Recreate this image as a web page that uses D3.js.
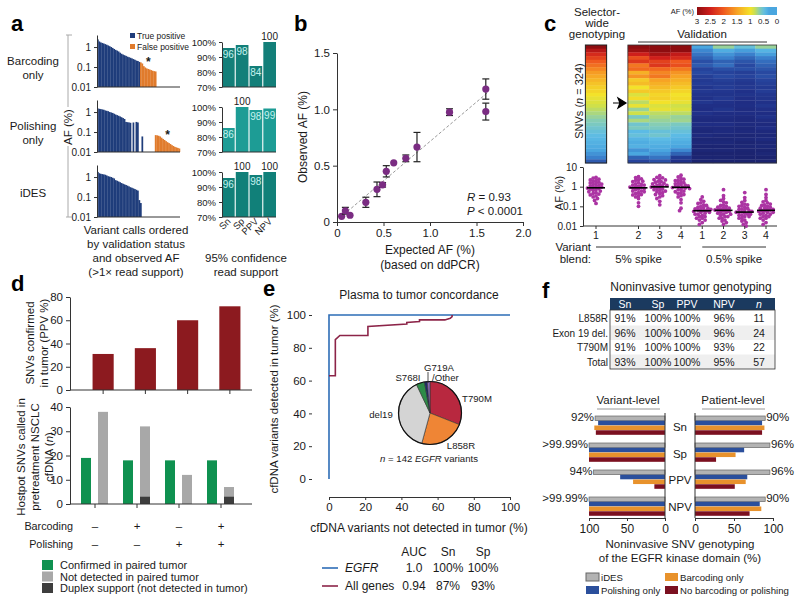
<!DOCTYPE html>
<html><head><meta charset="utf-8">
<script src="https://cdn.jsdelivr.net/npm/d3@7/dist/d3.min.js"></script>
<style>
body{margin:0;background:#fff;}
svg{font-family:Arial,"Liberation Sans",Helvetica,sans-serif;}
</style></head><body>
<svg id="fig" width="800" height="602"></svg>
<script>
// ================= DATA =================
// Panel a: AF (%) of variant calls ordered by status and AF
const tpBarcoding = [2.4,1.9,1.7,1.6,1.5,1.4,1.3,1.2,1.1,1.0,0.9,0.8,0.72,0.66,0.6,0.52,0.46,0.42,0.39,0.36,0.33,0.31,0.29,0.27,0.25,0.23,0.21,0.2,0.18];
const fpBarcoding = [0.17,0.15,0.11,0.095,0.085,0.08,0.075,0.07,0.065,0.062,0.06];
const tpPolishing = [1.5,1.45,1.4,1.35,1.3,1.2,1.15,1.1,1.0,0.95,0.9,0.82,0.75,0.7,0.65,0.6,0.55,0.5,0.45,0.32,0.31,0.3,0.29,null,0.3,null,0.32,0.3,null,null,0.06];
const fpPolishing = [null,null,null,null,null,null,null,null,0.07,0.068,0.065,0.06,0.052,0.045,0.04,0.035,0.031,0.028,0.025,0.022,0.02,0.018,0.017,0.016,0.015];
const tpIDES = [1.8,1.55,1.45,1.4,1.35,1.3,1.2,1.1,1.05,1.0,0.92,0.85,0.7,0.65,0.6,0.55,0.5,0.46,0.43,0.4,0.37,0.34,0.31,0.29,0.27,0.25,0.23,0.21,0.07,0.05];
const fpIDES = [];
const aStarIndex = [5, 16, null];
const ciLabels = ["Sn","Sp","PPV","NPV"];
const ciBarcoding = [96,98,84,100];
const ciPolishing = [86,100,98,99];
const ciIDES = [96,100,98,100];
const aAFTicks = [0.01,0.1,1];
const aCITicks = [70,80,90,100];

// Panel b
const bExpected = [0.05,0.09,0.14,0.31,0.43,0.49,0.53,0.61,0.74,0.86,1.21,1.6,1.6];
const bObserved = [0.05,0.10,0.06,0.175,0.29,0.33,0.45,0.525,0.565,0.665,0.975,1.18,0.98];
const bError    = [0,0.03,0,0.045,0.065,0.02,0.05,0,0.03,0.13,0.03,0.09,0.075];
const bFitSlope = 0.7, bFitIntercept = 0.015, bFitRange = [0.03,1.62];
const bXTicks = [0,0.5,1.0,1.5,2.0];
const bYTicks = [0,0.5,1.0,1.5];

// Panel c: AF (%) per SNV (rows sorted by selector-wide AF), per variant blend
const cBlendLabels = ["1","2","3","4","1","2","3","4"];
const cSpike5_1 = [3.0,2.7,2.4,2.2,2.0,1.85,1.7,1.55,1.45,1.35,1.25,1.15,1.1,1.0,0.95,0.9,0.85,0.8,0.75,0.7,0.65,0.6,0.55,0.5,0.46,0.42,0.38,0.34,0.3,0.25,0.2,0.14];
const cSpike5_2 = [3.2,2.9,2.5,2.1,2.3,1.8,1.9,1.4,1.6,1.2,1.3,1.0,1.2,0.9,1.05,0.8,0.95,0.7,0.85,0.6,0.75,0.55,0.6,0.45,0.5,0.4,0.35,0.38,0.25,0.3,0.15,0.1];
const cSpike5_3 = [3.6,3.0,2.8,2.5,2.2,2.3,1.9,1.7,1.8,1.5,1.4,1.3,1.2,1.1,1.15,1.0,0.9,0.95,0.8,0.75,0.7,0.65,0.6,0.5,0.55,0.45,0.4,0.35,0.3,0.25,0.18,0.12];
const cSpike5_4 = [3.8,3.1,2.6,2.4,2.0,2.1,1.8,1.6,1.5,1.4,1.3,1.2,1.1,1.0,1.05,0.95,0.85,0.9,0.8,0.7,0.72,0.6,0.55,0.5,0.45,0.4,0.35,0.3,0.22,0.15,0.08,0.06];
const cSpike05_1 = [0.3,0.22,0.18,0.15,0.12,0.14,0.1,0.11,0.09,0.08,0.085,0.07,0.075,0.065,0.06,0.07,0.055,0.05,0.06,0.045,0.04,0.05,0.035,0.03,0.04,0.025,0.03,0.02,0.025,0.015,0.02,0.012];
const cSpike05_2 = [0.7,0.35,0.25,0.2,0.15,0.17,0.12,0.1,0.11,0.09,0.08,0.085,0.07,0.065,0.075,0.06,0.055,0.065,0.05,0.045,0.04,0.05,0.035,0.04,0.03,0.025,0.03,0.02,0.025,0.015,0.018,0.012];
const cSpike05_3 = [0.5,0.28,0.2,0.16,0.13,0.11,0.12,0.09,0.1,0.08,0.07,0.075,0.06,0.065,0.055,0.05,0.052,0.045,0.05,0.04,0.035,0.04,0.03,0.035,0.025,0.03,0.02,0.025,0.018,0.015,0.012,0.01];
const cSpike05_4 = [0.7,0.4,0.28,0.2,0.17,0.15,0.13,0.11,0.12,0.1,0.09,0.08,0.085,0.07,0.065,0.06,0.07,0.055,0.05,0.06,0.045,0.04,0.05,0.035,0.03,0.04,0.025,0.03,0.02,0.025,0.015,0.012];
const cColorStops = [0,0.05,0.1,0.2,0.3,0.45,0.65,0.85,1.0,1.5,2.0,2.5,3.0];
const cColorbarTicks = [3,2.5,2,1.5,1,0.5,0];
const cYTicks = [0.01,0.1,1,10];

// Panel d
const dBarcoding = ["\u2013","+","\u2013","+"];
const dPolishing = ["\u2013","\u2013","+","+"];
const dPPV = [31,36,60,72];
const dConfirmed = [19,18,18,18];
const dNotDetected = [38,32,12,7];
const dDuplex = [0,3,0,3];
const dTopTicks = [0,20,40,60,80];
const dBotTicks = [0,10,20,30,40];

// Panel e
const eAllFPR = [0,3.5,3.5,6,21.5,21.5,43,43,50,50,64,67,68,68];
const eAllTPR = [63,63,85,87.5,87.5,93,94.5,95.5,96,97,97,98,99,100];
const eEgfrFPR = [0,0,100];
const eEgfrTPR = [0,100,100];
const ePieLabels = ["T790M","L858R","del19","S768I","G719A","Other"];
const ePieCounts = [44,33,55,6,2,2];
const eTicks = [0,20,40,60,80,100];
const eLegendNames = ["EGFR","All genes"];
const eAUC = ["1.0","0.94"];
const eSn = ["100%","87%"];
const eSp = ["100%","93%"];

// Panel f
const fRows = ["L858R","Exon 19 del.","T790M","Total"];
const fCols = ["Sn","Sp","PPV","NPV","n"];
const fSn  = ["91%","96%","91%","93%"];
const fSp  = ["100%","100%","100%","100%"];
const fPPV = ["100%","100%","100%","100%"];
const fNPV = ["96%","96%","93%","95%"];
const fN   = ["11","24","22","57"];
const fMetrics = ["Sn","Sp","PPV","NPV"];
const fMethods = ["iDES","Polishing only","Barcoding only","No barcoding or polishing"];
const fVarIDES = [92,100,94,100];
const fVarPolishing = [88,100,59,100];
const fVarBarcoding = [93,100,42,100];
const fVarNone = [91,100,14,100];
const fPatIDES = [90,96,96,90];
const fPatPolishing = [86,63,67,83];
const fPatBarcoding = [89,52,65,85];
const fPatNone = [86,27,51,70];
const fVarLabels = ["92%",">99.99%","94%",">99.99%"];
const fPatLabels = ["90%","96%","96%","90%"];
const fTicks = [0,50,100];

// ================= DRAWING =================
const svg = d3.select("#fig");
function T(g,x,y,s,o={}){
  const t=g.append("text").attr("x",x).attr("y",y).text(s)
    .attr("font-size",o.size||11).attr("fill",o.fill||"#1a1a1a")
    .attr("text-anchor",o.anchor||"start");
  if(o.weight) t.attr("font-weight",o.weight);
  if(o.italic) t.attr("font-style","italic");
  if(o.rotate!=null) t.attr("transform",`rotate(${o.rotate},${x},${y})`);
  return t;
}
function styleAxis(g,size){
  g.selectAll("text").attr("font-size",size||10).attr("fill","#1a1a1a").attr("font-family",'Arial,"Liberation Sans",sans-serif');
  g.selectAll("line").attr("stroke","#333");
  g.selectAll("path").attr("stroke","#333");
  return g;
}
function letter(x,y,s){T(svg,x,y,s,{size:22,weight:"bold",fill:"#000"});}

// ---------- Panel a ----------
letter(11,31,"a");
const aRows = [
  {name:["Barcoding","only"], tp:tpBarcoding, fp:fpBarcoding, ci:ciBarcoding, color:"#137f79"},
  {name:["Polishing","only"], tp:tpPolishing, fp:fpPolishing, ci:ciPolishing, color:"#1d9c95"},
  {name:["iDES"], tp:tpIDES, fp:fpIDES, ci:ciIDES, color:"#118079"}
];
const aSlots = 56;
aRows.forEach((row,i)=>{
  const base = 87 + i*65;
  const g = svg.append("g");
  row.name.forEach((s,k)=>T(g,33,base-(row.name.length===2?22:20)+k*13.5,s,{size:11.5,anchor:"middle"}));
  const y = d3.scaleLog().domain([0.01,4]).range([base,base-52]);
  const x = d3.scaleLinear().domain([0,aSlots]).range([97,180]);
  const bars = row.tp.map((v,k)=>({v,k,c:"#1f3d7b"}))
    .concat(row.fp.map((v,k)=>({v,k:row.tp.length+k,c:"#e07b2c"})))
    .filter(d=>d.v!=null);
  g.selectAll("rect.b").data(bars).join("rect")
    .attr("x",d=>x(d.k)).attr("width",x(1)-x(0)+0.25)
    .attr("y",d=>y(d.v)).attr("height",d=>base-y(d.v)).attr("fill",d=>d.c);
  styleAxis(g.append("g").attr("transform","translate(97,0)")
    .call(d3.axisLeft(y).tickValues(aAFTicks).tickFormat(d=>String(d)).tickSize(3).tickSizeOuter(0)),10);
  g.append("line").attr("x1",97).attr("x2",180).attr("y1",base).attr("y2",base).attr("stroke","#333");
  if(aStarIndex[i]!=null){
    const k=aStarIndex[i];
    T(g,x(row.tp.length+k)+1,y(row.fp[k])-3,"*",{size:12,anchor:"middle",weight:"bold"});
  }
  const yc = d3.scaleLinear().domain([70,100]).range([base,base-45]);
  const xc = d3.scaleBand().domain(ciLabels).range([222,276]).paddingInner(0.08);
  g.selectAll("rect.c").data(row.ci).join("rect")
    .attr("x",(d,k)=>xc(ciLabels[k])).attr("width",xc.bandwidth())
    .attr("y",d=>yc(d)).attr("height",d=>base-yc(d)).attr("fill",row.color);
  row.ci.forEach((d,k)=>{
    const cx = xc(ciLabels[k])+xc.bandwidth()/2;
    if(d>=100) T(g,cx,yc(d)-2,String(d),{size:10,anchor:"middle"});
    else T(g,cx,yc(d)+10,String(d),{size:10,anchor:"middle",fill:"#c4f2ee"});
  });
  styleAxis(g.append("g").attr("transform","translate(222,0)")
    .call(d3.axisLeft(yc).tickValues(aCITicks).tickFormat(d=>d+"%").tickSize(3).tickSizeOuter(0)),9.5);
  g.append("line").attr("x1",222).attr("x2",276).attr("y1",base).attr("y2",base).attr("stroke","#333");
  if(i===2){
    ciLabels.forEach(l=>{
      const cx=xc(l)+xc.bandwidth()/2+3;
      T(g,cx,base+5,l,{size:9.5,anchor:"end",rotate:-45});
    });
  }
});
[["True positive","#1f3d7b"],["False positive","#e07b2c"]].forEach((d,k)=>{
  svg.append("rect").attr("x",130).attr("y",33+k*11).attr("width",5).attr("height",5).attr("fill",d[1]);
  T(svg,137,39+k*11,d[0],{size:8.5});
});
svg.append("line").attr("x1",68).attr("x2",68).attr("y1",35).attr("y2",107).attr("stroke","#aaa");
svg.append("line").attr("x1",68).attr("x2",68).attr("y1",146).attr("y2",217).attr("stroke","#aaa");
svg.append("line").attr("x1",66).attr("x2",72).attr("y1",35).attr("y2",35).attr("stroke","#aaa");
svg.append("line").attr("x1",66).attr("x2",72).attr("y1",217).attr("y2",217).attr("stroke","#aaa");
T(svg,72,127,"AF (%)",{size:11.5,anchor:"middle",rotate:-90});
["Variant calls ordered","by validation status","and observed AF","(>1\u00d7 read support)"].forEach((s,k)=>
  T(svg,136,234+k*14,s,{size:11.5,anchor:"middle"}));
["95% confidence","read support"].forEach((s,k)=>T(svg,246,262+k*14,s,{size:11.5,anchor:"middle"}));

// ---------- Panel b ----------
letter(294,31,"b");
{
  const g=svg.append("g");
  const x=d3.scaleLinear().domain([0,2]).range([337,523]);
  const y=d3.scaleLinear().domain([0,1.5]).range([222,53]);
  styleAxis(g.append("g").attr("transform","translate(0,222)")
    .call(d3.axisBottom(x).tickValues(bXTicks).tickFormat(d=>d===0?"0":d3.format(".1f")(d)).tickSize(4).tickSizeOuter(0)),11.5);
  styleAxis(g.append("g").attr("transform","translate(337,0)")
    .call(d3.axisLeft(y).tickValues(bYTicks).tickFormat(d=>d===0?"0":d3.format(".1f")(d)).tickSize(4).tickSizeOuter(0)),11.5);
  g.append("line").attr("x1",x(bFitRange[0])).attr("y1",y(bFitIntercept+bFitSlope*bFitRange[0]))
    .attr("x2",x(bFitRange[1])).attr("y2",y(bFitIntercept+bFitSlope*bFitRange[1]))
    .attr("stroke","#999").attr("stroke-dasharray","3,2").attr("stroke-width",1);
  bExpected.forEach((ex,k)=>{
    const ob=bObserved[k], er=bError[k];
    if(er>0){
      g.append("line").attr("x1",x(ex)).attr("x2",x(ex)).attr("y1",y(ob-er)).attr("y2",y(ob+er)).attr("stroke","#222").attr("stroke-width",1.2);
      [ob-er,ob+er].forEach(v=>g.append("line").attr("x1",x(ex)-3.5).attr("x2",x(ex)+3.5).attr("y1",y(v)).attr("y2",y(v)).attr("stroke","#222").attr("stroke-width",1.2));
    }
    g.append("circle").attr("cx",x(ex)).attr("cy",y(ob)).attr("r",3.6).attr("fill","#7a2c82");
  });
  const t1=T(g,467,201,"",{size:11.5}); t1.append("tspan").attr("font-style","italic").text("R"); t1.append("tspan").text(" = 0.93");
  const t2=T(g,467,215,"",{size:11.5}); t2.append("tspan").attr("font-style","italic").text("P"); t2.append("tspan").text(" < 0.0001");
  T(g,430,254,"Expected AF (%)",{size:12,anchor:"middle"});
  T(g,430,269,"(based on ddPCR)",{size:12,anchor:"middle"});
  T(g,307,137,"Observed AF (%)",{size:12,anchor:"middle",rotate:-90});
}

// ---------- Panel c ----------
letter(544,31,"c");
{
  const g=svg.append("g");
  const cols=[cSpike5_1,cSpike5_2,cSpike5_3,cSpike5_4,cSpike05_1,cSpike05_2,cSpike05_3,cSpike05_4];
  const slots=["b1","gap","b2","b3","b4","c1","c2","c3","c4"];
  const colSlot=["b1","b2","b3","b4","c1","c2","c3","c4"];
  const xp=d3.scalePoint().domain(slots).range([596,766]);
  const step=xp.step();
  const color=d3.scaleLinear().domain(cColorStops)
    .range(["#1a2068","#1f2d84","#26439c","#3a80cc","#4aa6df","#5cbbe5","#86cdb4","#cfe04a","#f3e22a","#f7a325","#ef5a1f","#cf1f1b","#8e0d10"]).clamp(true);
  const hTop=45,hBot=163;
  cols.forEach((arr,ci)=>{
    const yb=d3.scaleBand().domain(d3.range(arr.length)).range([hTop,hBot]);
    const x0=xp(colSlot[ci])-step/2;
    g.selectAll(null).data(arr).join("rect")
      .attr("x",x0).attr("width",step+0.3).attr("y",(d,k)=>yb(k)).attr("height",yb.bandwidth()+0.3)
      .attr("fill",d=>color(d));
  });
  g.append("rect").attr("x",xp("b1")-step/2).attr("y",hTop).attr("width",step).attr("height",hBot-hTop).attr("fill","none").attr("stroke","#222").attr("stroke-width",1);
  g.append("rect").attr("x",xp("b2")-step/2).attr("y",hTop).attr("width",xp("c4")-xp("b2")+step).attr("height",hBot-hTop).attr("fill","none").attr("stroke","#333").attr("stroke-width",0.8);
  g.append("path").attr("d","M613,103 L626,103 M618,98 L626,103 L618,108 L620,103 Z").attr("stroke","#000").attr("stroke-width",1.2).attr("fill","#000");
  ["Selector-","wide","genotyping"].forEach((s,k)=>T(g,597,16+k*11,s,{size:11.5,anchor:"middle"}));
  T(g,702,38,"Validation",{size:11.5,anchor:"middle"});
  g.append("line").attr("x1",638).attr("x2",767).attr("y1",42).attr("y2",42).attr("stroke","#333");
  const st=T(g,583,101,"",{size:11,anchor:"middle",rotate:-90});
  st.append("tspan").text("SNVs ("); st.append("tspan").attr("font-style","italic").text("n"); st.append("tspan").text(" = 324)");
  const cbx=d3.scaleLinear().domain([3,0]).range([697,777]);
  const grad=svg.append("defs").append("linearGradient").attr("id","cbar").attr("x1","0%").attr("x2","100%");
  d3.range(0,31).forEach(k=>{const v=3-k*0.1; grad.append("stop").attr("offset",(k/30*100)+"%").attr("stop-color",color(Math.max(v,0.3)));});
  g.append("rect").attr("x",697).attr("y",7).attr("width",80).attr("height",8).attr("fill","url(#cbar)");
  T(g,694,14,"AF (%)",{size:7.5,anchor:"end"});
  cColorbarTicks.forEach(v=>T(g,cbx(v),24,String(v),{size:8,anchor:"middle"}));
  const y=d3.scaleLog().domain([0.01,10]).range([226,167]);
  styleAxis(g.append("g").attr("transform","translate(583,0)")
    .call(d3.axisLeft(y).tickValues(cYTicks).tickFormat(d=>String(d)).tickSize(3).tickSizeOuter(0)),10);
  g.append("line").attr("x1",583).attr("x2",777).attr("y1",226).attr("y2",226).attr("stroke","#333");
  const r=1.9;
  cols.forEach((arr,ci)=>{
    const cx=xp(colSlot[ci]);
    const pts=arr.map(v=>({v,y:y(v)})).sort((a,b)=>a.y-b.y);
    const placed=[];
    pts.forEach(p=>{
      for(let k=0;k<80;k++){
        const off=(k%2===0?1:-1)*Math.ceil(k/2)*r*0.75;
        const ok=placed.every(q=>(q.x-off)**2+(q.y-p.y)**2>=(2*r*0.72)**2);
        if(ok){p.x=off;placed.push(p);break;}
      }
    });
    g.selectAll(null).data(placed).join("circle").attr("cx",d=>cx+d.x).attr("cy",d=>d.y).attr("r",r).attr("fill","#ab34a3");
    const med=d3.median(arr);
    g.append("line").attr("x1",cx-9).attr("x2",cx+9).attr("y1",y(med)).attr("y2",y(med)).attr("stroke","#000").attr("stroke-width",1.6);
    g.append("line").attr("x1",cx).attr("x2",cx).attr("y1",226).attr("y2",229).attr("stroke","#333");
    T(g,cx,239,cBlendLabels[ci],{size:10.5,anchor:"middle"});
  });
  T(g,563,193,"AF (%)",{size:11,anchor:"middle",rotate:-90});
  T(g,591,251,"Variant",{size:11.5,anchor:"end"});
  T(g,591,263,"blend:",{size:11.5,anchor:"end"});
  g.append("line").attr("x1",xp("b1")).attr("x2",xp("b4")).attr("y1",247).attr("y2",247).attr("stroke","#333");
  g.append("line").attr("x1",xp("c1")).attr("x2",xp("c4")).attr("y1",247).attr("y2",247).attr("stroke","#333");
  T(g,(xp("b1")+xp("b4"))/2,263,"5% spike",{size:11.5,anchor:"middle"});
  T(g,(xp("c1")+xp("c4"))/2,263,"0.5% spike",{size:11.5,anchor:"middle"});
}

// ---------- Panel d ----------
letter(11,291,"d");
{
  const g=svg.append("g");
  const conds=d3.range(4);
  const xt=d3.scaleBand().domain(conds).range([82,251]).paddingInner(0.5).paddingOuter(0.25);
  const yt=d3.scaleLinear().domain([0,80]).range([390,297]);
  g.selectAll(null).data(dPPV).join("rect").attr("x",(d,k)=>xt(k)).attr("width",xt.bandwidth())
    .attr("y",d=>yt(d)).attr("height",d=>390-yt(d)).attr("fill","#8c1a1f");
  styleAxis(g.append("g").attr("transform","translate(70,0)")
    .call(d3.axisLeft(yt).tickValues(dTopTicks).tickSize(4).tickSizeOuter(0)),11.5);
  g.append("line").attr("x1",70).attr("x2",252).attr("y1",390).attr("y2",390).attr("stroke","#333");
  conds.forEach(k=>g.append("line").attr("x1",xt(k)+xt.bandwidth()/2).attr("x2",xt(k)+xt.bandwidth()/2).attr("y1",390).attr("y2",394).attr("stroke","#333"));
  T(g,34,343,"SNVs confirmed",{size:11.5,anchor:"middle",rotate:-90});
  T(g,48,343,"in tumor (PPV %)",{size:11.5,anchor:"middle",rotate:-90});
  const xc=d3.scaleLinear().domain([0,3]).range([95,221]);
  const yb=d3.scaleLinear().domain([0,40]).range([504,407]);
  conds.forEach(k=>{
    const c=xc(k);
    g.append("rect").attr("x",c-14).attr("width",10).attr("y",yb(dConfirmed[k])).attr("height",504-yb(dConfirmed[k])).attr("fill","#0f9150");
    g.append("rect").attr("x",c+3).attr("width",10).attr("y",yb(dNotDetected[k])).attr("height",504-yb(dNotDetected[k])).attr("fill","#a8a8a8");
    if(dDuplex[k]>0) g.append("rect").attr("x",c+3).attr("width",10).attr("y",yb(dDuplex[k])).attr("height",504-yb(dDuplex[k])).attr("fill","#3d3d3d");
    g.append("line").attr("x1",c).attr("x2",c).attr("y1",504).attr("y2",508).attr("stroke","#333");
    T(g,c,530,dBarcoding[k],{size:11.5,anchor:"middle"});
    T(g,c,548,dPolishing[k],{size:11.5,anchor:"middle"});
  });
  styleAxis(g.append("g").attr("transform","translate(70,0)")
    .call(d3.axisLeft(yb).tickValues(dBotTicks).tickSize(4).tickSizeOuter(0)),11.5);
  g.append("line").attr("x1",70).attr("x2",252).attr("y1",504).attr("y2",504).attr("stroke","#333");
  T(g,73,530,"Barcoding",{size:10.8,anchor:"end"});
  T(g,73,548,"Polishing",{size:10.8,anchor:"end"});
  T(g,25,457,"Hostpot SNVs called in",{size:11.5,anchor:"middle",rotate:-90});
  T(g,39,457,"pretreatment NSCLC",{size:11.5,anchor:"middle",rotate:-90});
  const lt=T(g,53,457,"",{size:11.5,anchor:"middle",rotate:-90});
  lt.append("tspan").text("cfDNA ("); lt.append("tspan").attr("font-style","italic").text("n"); lt.append("tspan").text(")");
  [["Confirmed in paired tumor","#0f9150"],["Not detected in paired tumor","#a8a8a8"],["Duplex support (not detected in tumor)","#3d3d3d"]].forEach((d,k)=>{
    g.append("rect").attr("x",42).attr("y",560+k*11.5).attr("width",11).attr("height",10).attr("fill",d[1]);
    T(g,60,569+k*11.5,d[0],{size:11});
  });
}

// ---------- Panel e ----------
letter(263,296,"e");
{
  const g=svg.append("g");
  const x=d3.scaleLinear().domain([0,100]).range([329,510]);
  const y=d3.scaleLinear().domain([0,100]).range([479,315]);
  T(g,419,299,"Plasma to tumor concordance",{size:12,anchor:"middle"});
  const ya=styleAxis(g.append("g").attr("transform","translate(312,0)")
    .call(d3.axisLeft(y).tickValues(eTicks).tickSize(3).tickSizeOuter(0)),11.5);
  ya.select(".domain").remove();
  styleAxis(g.append("g").attr("transform","translate(0,497)")
    .call(d3.axisBottom(x).tickValues(eTicks).tickSize(3).tickSizeOuter(0)),11.5);
  const line=d3.line().x(d=>x(d[0])).y(d=>y(d[1]));
  g.append("path").attr("d",line(eEgfrFPR.map((v,k)=>[v,eEgfrTPR[k]]))).attr("fill","none").attr("stroke","#2d6db6").attr("stroke-width",1.6);
  g.append("path").attr("d",line(eAllFPR.map((v,k)=>[v,eAllTPR[k]]))).attr("fill","none").attr("stroke","#8c2448").attr("stroke-width",1.6);
  T(g,278,399,"cfDNA variants detected in tumor (%)",{size:11.5,anchor:"middle",rotate:-90});
  T(g,419,532,"cfDNA variants not detected in tumor (%)",{size:12,anchor:"middle"});
  const pcx=430,pcy=413,pr=31.5;
  const pieColors=["#b8283f","#ef8535","#d4d4d4","#2e8b48","#1e2d6a","#8a6bbb"];
  const arcs=d3.pie().sort(null).value(d=>d)(ePieCounts);
  const arc=d3.arc().innerRadius(0).outerRadius(pr);
  const pg=g.append("g").attr("transform",`translate(${pcx},${pcy})`);
  pg.selectAll(null).data(arcs).join("path").attr("d",arc).attr("fill",(d,k)=>pieColors[k]).attr("stroke","#333").attr("stroke-width",0.6);
  pg.append("circle").attr("r",pr).attr("fill","none").attr("stroke","#111").attr("stroke-width",1.2);
  const ps=9.6;
  T(g,477,402,ePieLabels[0],{size:ps,anchor:"middle"});
  T(g,461,449,ePieLabels[1],{size:ps,anchor:"middle"});
  T(g,381,418,ePieLabels[2],{size:ps,anchor:"middle"});
  T(g,408,381,ePieLabels[3],{size:ps,anchor:"middle"});
  T(g,439,371,ePieLabels[4],{size:ps,anchor:"middle"});
  T(g,432,381,"/"+ePieLabels[5],{size:ps,anchor:"start"});
  g.append("line").attr("x1",428).attr("x2",428).attr("y1",372).attr("y2",383).attr("stroke","#222").attr("stroke-width",0.8);
  const nt=T(g,429,462,"",{size:ps,anchor:"middle"});
  nt.append("tspan").attr("font-style","italic").text("n"); nt.append("tspan").text(" = 142 ");
  nt.append("tspan").attr("font-style","italic").text("EGFR"); nt.append("tspan").text(" variants");
  T(g,414,556,"AUC",{size:12,anchor:"middle"});
  T(g,448,556,"Sn",{size:12,anchor:"middle"});
  T(g,483,556,"Sp",{size:12,anchor:"middle"});
  ["#2d6db6","#8c2448"].forEach((c,k)=>{
    const yy=572+k*18;
    g.append("line").attr("x1",322).attr("x2",338).attr("y1",yy-4).attr("y2",yy-4).attr("stroke",c).attr("stroke-width",1.6);
    T(g,345,yy,eLegendNames[k],{size:12,italic:k===0});
    T(g,414,yy,eAUC[k],{size:12,anchor:"middle"});
    T(g,448,yy,eSn[k],{size:12,anchor:"middle"});
    T(g,483,yy,eSp[k],{size:12,anchor:"middle"});
  });
}

// ---------- Panel f ----------
letter(542,298,"f");
{
  const g=svg.append("g");
  T(g,691,291,"Noninvasive tumor genotyping",{size:12,anchor:"middle"});
  const colX=[625,658,687,724,759];
  const tx0=610,tx1=775;
  g.append("rect").attr("x",tx0).attr("y",298).attr("width",tx1-tx0).attr("height",12).attr("fill","#1b3a5f");
  const rowY=d3.scaleBand().domain(fRows).range([311,369]);
  fRows.forEach((r,k)=>{ if(k%2===1) g.append("rect").attr("x",tx0).attr("y",rowY(r)).attr("width",tx1-tx0).attr("height",rowY.bandwidth()).attr("fill","#efefef"); });
  g.append("rect").attr("x",tx0).attr("y",310).attr("width",tx1-tx0).attr("height",59).attr("fill","none").attr("stroke","#333").attr("stroke-width",0.8);
  fCols.forEach((c,k)=>T(g,colX[k],308,c,{size:10.5,anchor:"middle",fill:"#fff",italic:c==="n"}));
  const cols=[fSn,fSp,fPPV,fNPV,fN];
  fRows.forEach((r,k)=>{
    const yy=rowY(r)+rowY.bandwidth()/2+4;
    T(g,608,yy,r,{size:10,anchor:"end"});
    cols.forEach((col,j)=>T(g,colX[j],yy,col[k],{size:10.5,anchor:"middle"}));
  });
  T(g,628,404,"Variant-level",{size:11.5,anchor:"middle"});
  T(g,733,404,"Patient-level",{size:11.5,anchor:"middle"});
  g.append("line").attr("x1",597).attr("x2",660).attr("y1",409).attr("y2",409).attr("stroke","#999");
  g.append("line").attr("x1",702).attr("x2",765).attr("y1",409).attr("y2",409).attr("stroke","#999");
  const yg=d3.scaleBand().domain(fMetrics).range([416,516]).paddingInner(0.296);
  const yin=d3.scaleBand().domain(fMethods).range([0,yg.bandwidth()]);
  const mcol=["#b3b3b3","#2b4f9c","#e8922c","#7b1020"];
  const xl=d3.scaleLinear().domain([0,100]).range([665,589]);
  const xr=d3.scaleLinear().domain([0,100]).range([695,773]);
  const varSets=[fVarIDES,fVarPolishing,fVarBarcoding,fVarNone];
  const patSets=[fPatIDES,fPatPolishing,fPatBarcoding,fPatNone];
  fMetrics.forEach((m,i)=>{
    fMethods.forEach((meth,j)=>{
      const yy=yg(m)+yin(meth);
      const v=varSets[j][i], p=patSets[j][i];
      g.append("rect").attr("x",xl(v)).attr("width",xl(0)-xl(v)).attr("y",yy).attr("height",yin.bandwidth()-0.2)
        .attr("fill",mcol[j]).attr("stroke",j===0?"#666":"none").attr("stroke-width",0.7);
      g.append("rect").attr("x",xr(0)).attr("width",xr(p)-xr(0)).attr("y",yy).attr("height",yin.bandwidth()-0.2)
        .attr("fill",mcol[j]).attr("stroke",j===0?"#666":"none").attr("stroke-width",0.7);
    });
    T(g,680,yg(m)+yg.bandwidth()/2+5,m,{size:11.5,anchor:"middle"});
    T(g,xl(fVarIDES[i])-1,yg(m)+5,fVarLabels[i],{size:11.5,anchor:"end"});
    T(g,xr(fPatIDES[i])+1,yg(m)+5,fPatLabels[i],{size:11.5,anchor:"start"});
  });
  g.append("line").attr("x1",665).attr("x2",665).attr("y1",413).attr("y2",518).attr("stroke","#333");
  g.append("line").attr("x1",695).attr("x2",695).attr("y1",413).attr("y2",518).attr("stroke","#333");
  styleAxis(g.append("g").attr("transform","translate(0,518)").call(d3.axisBottom(xl).tickValues(fTicks).tickSize(3).tickSizeOuter(0)),12);
  styleAxis(g.append("g").attr("transform","translate(0,518)").call(d3.axisBottom(xr).tickValues(fTicks).tickSize(3).tickSizeOuter(0)),12);
  T(g,680,548,"Noninvasive SNV genotyping",{size:11.5,anchor:"middle"});
  T(g,680,562,"of the EGFR kinase domain (%)",{size:11.5,anchor:"middle"});
  const lpos=[[586,573],[586,586],[665,573],[665,586]];
  fMethods.forEach((m,j)=>{
    g.append("rect").attr("x",lpos[j][0]).attr("y",lpos[j][1]).attr("width",13).attr("height",8).attr("fill",mcol[j]).attr("stroke",j===0?"#666":"none");
    T(g,lpos[j][0]+15,lpos[j][1]+8,m,{size:9.6});
  });
}
</script></body></html>
